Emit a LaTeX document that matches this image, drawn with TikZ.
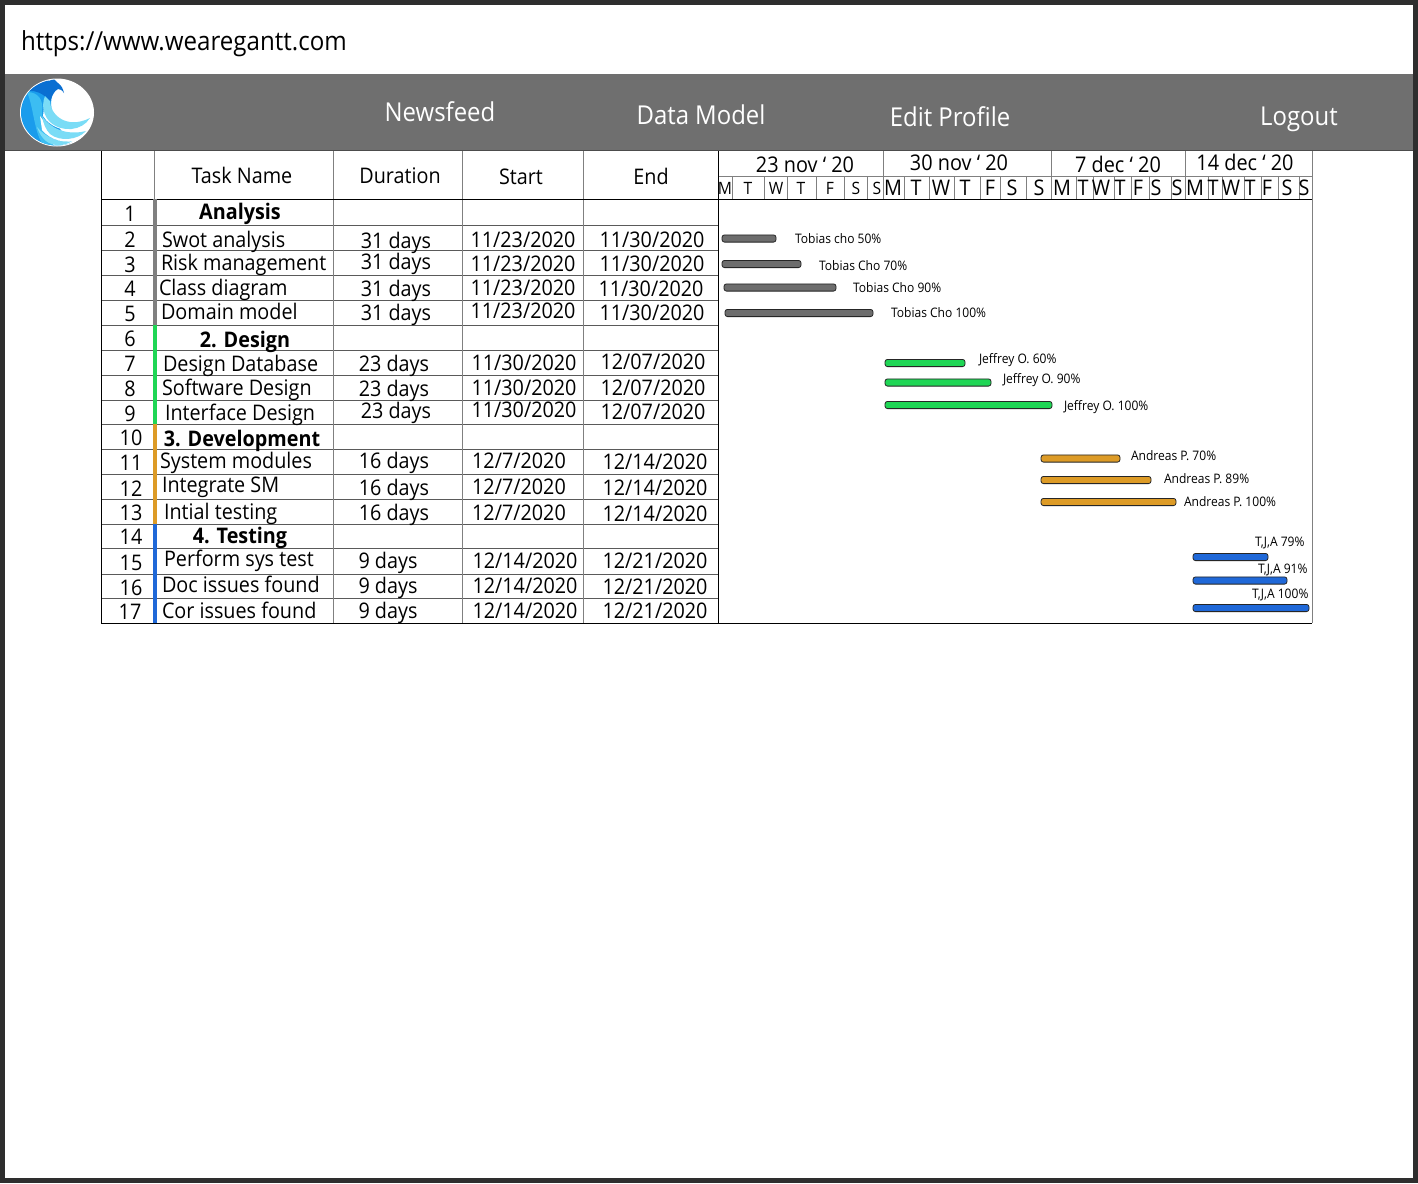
\documentclass[tikz,border=0pt]{standalone}
\usepackage{fontspec}
\setmainfont[FakeStretch=0.92]{Open Sans}
\definecolor{band}{HTML}{6F6F6F}
\definecolor{frameclr}{HTML}{2E2E2E}
\definecolor{ruleclr}{HTML}{5A5A5A}
\definecolor{colclr}{HTML}{808080}
\definecolor{gbar}{HTML}{6D6D6D}
\definecolor{grbar}{HTML}{1FD655}
\definecolor{obar}{HTML}{DD9B26}
\definecolor{bbar}{HTML}{1F68D8}
\definecolor{logodark}{HTML}{0A6FD2}
\definecolor{logomid}{HTML}{1A9CEC}
\definecolor{logoazure}{HTML}{3CBDF2}
\definecolor{logolight}{HTML}{7ADCF6}
\tikzset{
  x=1pt,y=-1pt,
  txt/.style={inner sep=0pt,outer sep=0pt,anchor=base,text=black},
  cell/.style={txt,font=\fontsize{21.5}{24}\selectfont},
  celll/.style={cell,anchor=base west},
  boldcell/.style={txt,font=\fontsize{21.5}{24}\selectfont\bfseries},
  menu/.style={txt,text=white,font=\fontsize{26}{28}\selectfont},
  weekl/.style={txt,font=\fontsize{21.6}{24}\selectfont},
  dayl/.style={txt,font=\fontsize{21.5}{24}\selectfont},
  daysm/.style={txt,font=\fontsize{17}{20}\selectfont},
  barl/.style={txt,anchor=base west,font=\fontsize{13.1}{15}\selectfont},
  ganttbar/.style={draw=black!85,line width=.8pt,rounded corners=2.5pt},
  rowrule/.style={draw=ruleclr,line width=1pt},
  colrule/.style={draw=colclr,line width=1pt},
  outer/.style={draw=black,line width=1pt},
  strip/.style={line width=4pt}
}
\begin{document}
\begin{tikzpicture}
\useasboundingbox (0,0) rectangle (1418,1183);
\fill[frameclr] (0,0) rectangle (1418,1183);
\fill[white] (5,5) rectangle (1413,1178);
\fill[band] (5,74) rectangle (1413,150.5);
\draw[black!70,line width=1pt] (5,150.5) -- (1413,150.5);
\node[txt,anchor=base west,font=\fontsize{26.2}{28}\selectfont] (url) at (21,50) {https://www.wearegantt.com};
% logo
\begin{scope}
\fill[white] (57,112.5) ellipse [x radius=37,y radius=34];
\clip (57,112.5) ellipse [x radius=36,y radius=33];
% base crescent
\fill[logomid] (18,112) .. controls (20,96) and (30,86) .. (44,84) -- (52,96) .. controls (48,112) and (58,132) .. (78,148) -- (40,150) -- (16,130) -- cycle;
% azure inner crescent
\fill[logoazure] (27,92) .. controls (38,92) and (44,100) .. (42,112) .. controls (41,125) and (50,136) .. (60,146) -- (44,146) .. controls (34,134) and (34,108) .. (27,92) -- cycle;
% dark head
\fill[logodark] (27,91) .. controls (32,85) and (42,81) .. (50,80.5) -- (54,79) -- (58,83) .. controls (62,86) and (63,89) .. (64,93) .. controls (62,90) and (60,89) .. (58,89) .. controls (54,91) and (52,96) .. (50,102) .. controls (45,94) and (36,90) .. (27,91) -- cycle;
% bands, each with a white gap beneath it
\fill[white] (44,135) .. controls (52,140) and (60,143) .. (72,142) -- (86,136) -- (74,146) -- (56,147) -- cycle;
\fill[logolight] (37,127) .. controls (45,137) and (57,142) .. (72,141) .. controls (64,147) and (52,146) .. (46,141) .. controls (42,138) and (39,133) .. (37,127) -- cycle;
\fill[white] (40,116) .. controls (50,131) and (66,139) .. (87,132) -- (80,139) .. controls (66,145) and (50,140) .. (42,130) -- cycle;
\fill[logolight] (42,116) .. controls (50,128) and (66,136) .. (86,131) .. controls (78,140) and (60,142) .. (50,134) .. controls (46,130) and (43,123) .. (42,116) -- cycle;
\fill[white] (44,108) .. controls (50,122) and (68,130) .. (90,120) -- (88,127) .. controls (70,135) and (50,128) .. (43,116) -- cycle;
\fill[logolight] (50,101) .. controls (50,114) and (66,130) .. (90,118) .. controls (82,131) and (62,133) .. (50,122) .. controls (44,116) and (41,106) .. (45,96) -- cycle;
\end{scope}
\node[menu] (m1) at (440,121) {Newsfeed};
\node[menu] (m2) at (701,124) {Data Model};
\node[menu] (m3) at (950,126) {Edit Profile};
\node[menu] (m4) at (1299,125) {Logout};
% table rules
\foreach \y in {225,250,275,300,325,350,375,400,424,449,474,499,524,548,574,598}
  \draw[rowrule] (101.5,\y) -- (718.5,\y);
\foreach \x in {333.5,462.5,583.5}
  \draw[colrule] (\x,151) -- (\x,623);
\draw[colrule] (154.5,151) -- (154.5,199);
\draw[outer] (101.5,199) -- (1312,199);
\draw[outer] (718.5,151) -- (718.5,623);
\draw[outer] (101.5,151) -- (101.5,623) -- (1312,623);
\draw[colrule] (1312,151) -- (1312,623);
\draw[colrule] (718.5,176) -- (1312,176);
\foreach \x in {883,1051.5,1185.5} \draw[colrule] (\x,151) -- (\x,199);
\foreach \x in {732,764,787,816,844,867,904,929,954,980,1000,1026,1076,1093,1114,1131,1149,1171,1208,1222,1244,1261,1278,1299}
  \draw[colrule] (\x,176) -- (\x,199);
% strips
\draw[strip,draw=colclr] (155,199) -- (155,325);
\draw[strip,draw=grbar] (155,325) -- (155,424);
\draw[strip,draw=obar] (155,424) -- (155,524);
\draw[strip,draw=bbar] (155,524) -- (155,623);
% header
\node[cell] (h1) at (242,183) {Task Name};
\node[cell] (h2) at (400,183) {Duration};
\node[cell] (h3) at (521,184) {Start};
\node[cell] (h4) at (651,184) {End};
\node[weekl] (w1) at (805,172) {23 nov ‘ 20};
\node[weekl] (w2) at (959,170) {30 nov ‘ 20};
\node[weekl] (w3) at (1118,172) {7 dec ‘ 20};
\node[weekl] (w4) at (1245,170) {14 dec ‘ 20};
\foreach \x/\t [count=\i] in {725/M,748/T,776/W,801/T,830/F,856/S,877/S}
  \node[daysm] (da\i) at (\x,194) {\t};
\foreach \x/\t [count=\i] in {893/M,916/T,941/W,965/T,990/F,1012/S,1039/S,1062/M,1083/T,1101/W,1120/T,1138/F,1156/S,1177/S,1195/M,1213/T,1231/W,1250/T,1267/F,1287/S,1304/S}
  \node[dayl] (db\i) at (\x,195) {\t};
% numbers
\foreach \x/\y [count=\i] in {130/221,130/247,130/272,130/296,130/321,130/346,130/371,130/396,130/421,131/445,131/470,131/496,131/520,131/544,131/570,131/595,130/619}
  \node[cell] (n\i) at (\x,\y) {\i};
% task names
\foreach \x/\y/\t [count=\i] in {162/247/Swot analysis,161/270/Risk management,159/295/Class diagram,161/319/Domain model,163/371/Design Database,162/395/Software Design,165/420/Interface Design,160/468/System modules,162/492/Integrate SM,164/519/Intial testing,164/566/Perform sys test,162/592/Doc issues found,162/618/Cor issues found}
  \node[celll] (t\i) at (\x,\y) {\t};
\node[boldcell] (b1) at (240,219) {Analysis};
\node[boldcell] (b2) at (245,347) {2. Design};
\node[boldcell] (b3) at (242,446) {3. Development};
\node[boldcell] (b4) at (240,543) {4. Testing};
% durations
\foreach \x/\y/\t [count=\i] in {396/248/31 days,396/269/31 days,396/296/31 days,396/320/31 days,394/371/23 days,394/396/23 days,396/418/23 days,394/468/16 days,394/495/16 days,394/520/16 days,388/568/9 days,388/593/9 days,388/618/9 days}
  \node[cell] (d\i) at (\x,\y) {\t};
% start dates
\foreach \x/\y/\t [count=\i] in {523/247/{11/23/2020},523/271/{11/23/2020},523/295/{11/23/2020},523/318/{11/23/2020},524/370/{11/30/2020},524/395/{11/30/2020},524/417/{11/30/2020},519/468/{12/7/2020},519/494/{12/7/2020},519/520/{12/7/2020},525/568/{12/14/2020},525/593/{12/14/2020},525/618/{12/14/2020}}
  \node[cell] (s\i) at (\x,\y) {\t};
% end dates
\foreach \x/\y/\t [count=\i] in {652/247/{11/30/2020},652/271/{11/30/2020},651/296/{11/30/2020},652/320/{11/30/2020},653/369/{12/07/2020},653/395/{12/07/2020},653/419/{12/07/2020},655/469/{12/14/2020},655/495/{12/14/2020},655/521/{12/14/2020},655/568/{12/21/2020},655/594/{12/21/2020},655/618/{12/21/2020}}
  \node[cell] (e\i) at (\x,\y) {\t};
% bars
\foreach \a/\b/\y/\c [count=\i] in {722/776/238.5/gbar,722/801/264/gbar,724/836/287.5/gbar,725/873/313/gbar,885/965/363/grbar,885/991/382.5/grbar,885/1052/405/grbar,1041/1120/458.5/obar,1041/1151/480/obar,1041/1176/502/obar,1193/1268/557/bbar,1193/1287/580.5/bbar,1193/1309/608/bbar}
  \draw[ganttbar,fill=\c] (\a,\y-3.6) rectangle (\b,\y+3.6);
% bar labels
\foreach \x/\y/\t [count=\i] in {795/243/Tobias cho 50\%,819/270/Tobias Cho 70\%,853/292/Tobias Cho 90\%,891/317/Tobias Cho 100\%,979/363/Jeffrey O. 60\%,1003/383/Jeffrey O. 90\%,1064/410/Jeffrey O. 100\%,1131/460/Andreas P. 70\%,1164/483/Andreas P. 89\%,1184/506/Andreas P. 100\%,1255/546/{T,J,A 79\%},1258/573/{T,J,A 91\%},1252/598/{T,J,A 100\%}}
  \node[barl] (l\i) at (\x,\y) {\t};
\end{tikzpicture}
\end{document}
